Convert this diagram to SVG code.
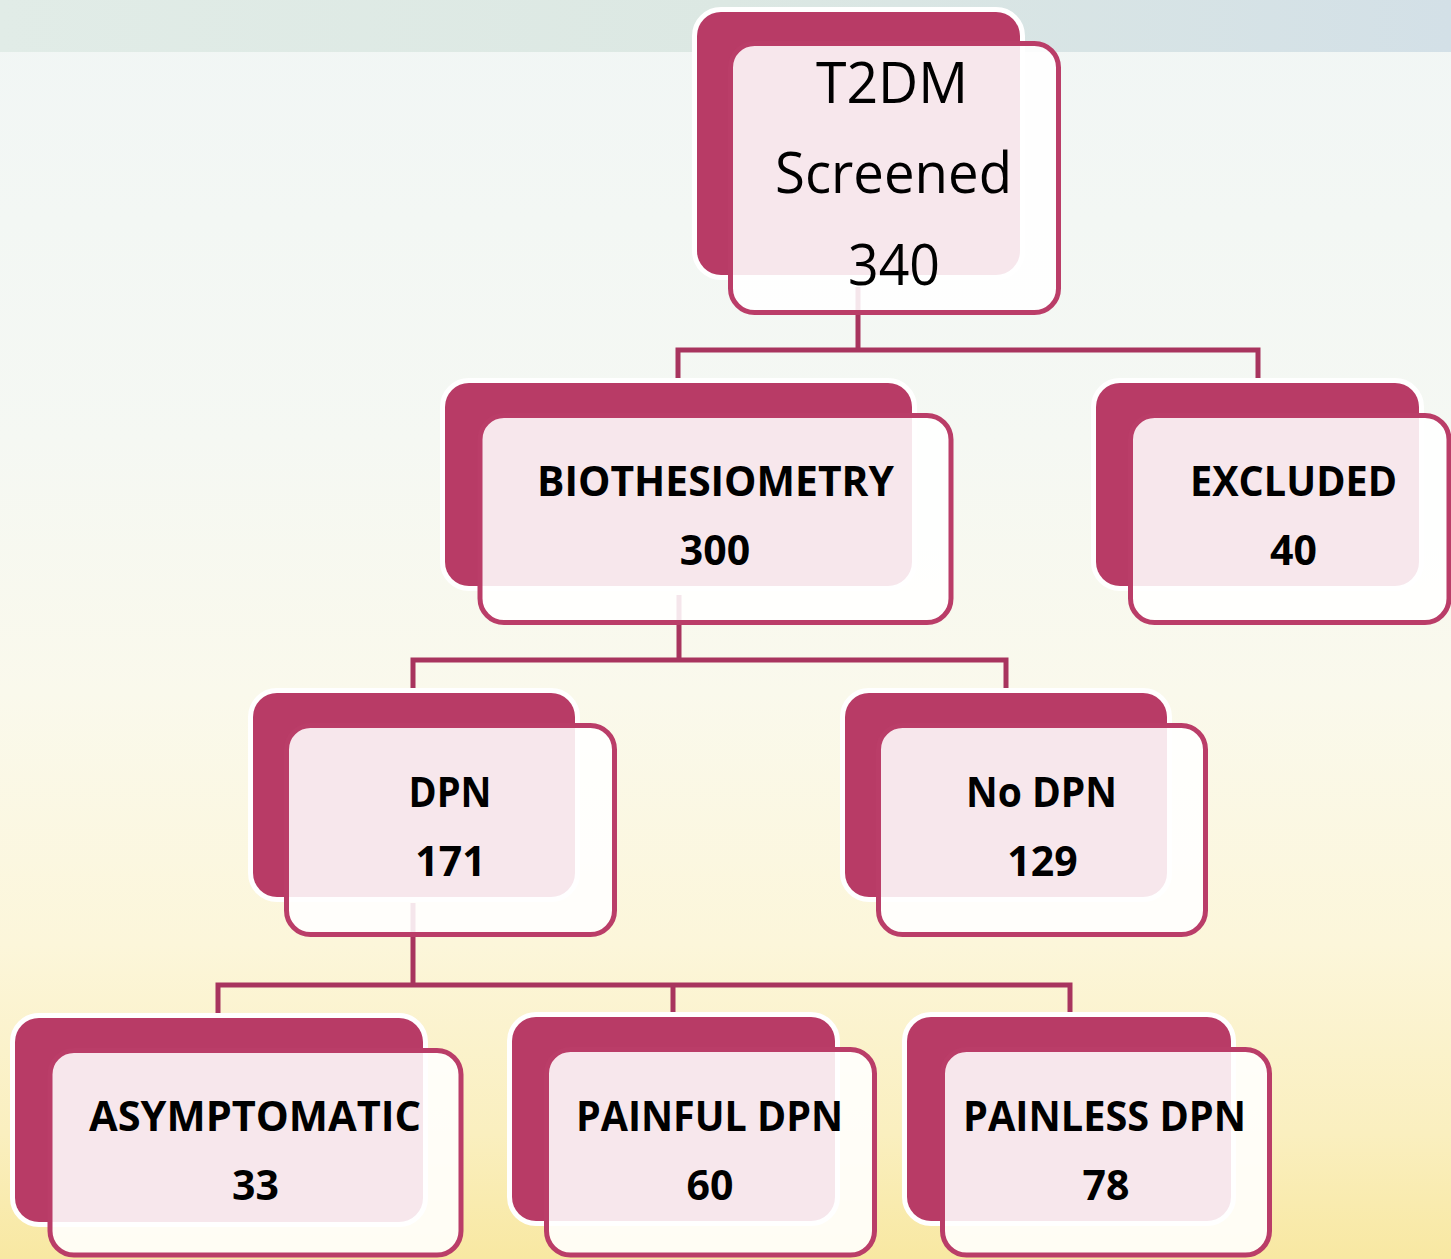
<svg xmlns="http://www.w3.org/2000/svg" width="1451" height="1259" viewBox="0 0 1451 1259">
  <defs>
    <linearGradient id="bg" x1="0" y1="0" x2="0" y2="1">
      <stop offset="0" stop-color="#F1F6F5"/>
      <stop offset="0.35" stop-color="#F5F8F3"/>
      <stop offset="0.55" stop-color="#FAF9EC"/>
      <stop offset="0.75" stop-color="#FCF6DA"/>
      <stop offset="0.9" stop-color="#FAEFBF"/>
      <stop offset="1" stop-color="#F8E8A2"/>
    </linearGradient>
    <linearGradient id="band" x1="0" y1="0" x2="1" y2="0">
      <stop offset="0" stop-color="#E1ECE7"/>
      <stop offset="0.5" stop-color="#DCE8E3"/>
      <stop offset="1" stop-color="#D3E0E7"/>
    </linearGradient>
    <style>
      .back { fill:#B83B66; stroke:#FFFFFF; stroke-width:10; paint-order:stroke; }
      .front { fill:#FFFFFF; fill-opacity:0.88; stroke:#BA3D68; stroke-width:5; }
      .conn { fill:none; stroke:#A8345E; stroke-width:5; stroke-linejoin:miter; }
      .t { font-family:"Open Sans","Noto Sans",sans-serif; fill:#000; text-anchor:middle; }
      .b { font-weight:700; font-size:41px; }
      .r { font-weight:400; font-size:56px; }
    </style>
  </defs>

  <rect x="0" y="0" width="1451" height="1259" fill="url(#bg)"/>
  <rect x="0" y="0" width="1451" height="52" fill="url(#band)"/>

  <g id="connectors">
    <path class="conn" d="M858,287 V350"/>
    <path class="conn" d="M678,380 V350 H1258 V380"/>
    <path class="conn" d="M679,595 V660"/>
    <path class="conn" d="M413,690 V660 H1006 V690"/>
    <path class="conn" d="M413,903 V985"/>
    <path class="conn" d="M218,1014 V985 H1070 V1014"/>
    <path class="conn" d="M673,985 V1014"/>
  </g>

  <g id="node-t2dm">
    <rect class="back" x="697" y="12" width="323" height="263" rx="24"/>
    <rect class="front" x="730.5" y="43.5" width="328" height="269" rx="24"/>
    <text class="t r" x="892" y="103" textLength="152" lengthAdjust="spacingAndGlyphs">T2DM</text>
    <text class="t r" x="893.5" y="193" textLength="237" lengthAdjust="spacingAndGlyphs">Screened</text>
    <text class="t r" x="894" y="285" textLength="92" lengthAdjust="spacingAndGlyphs">340</text>
  </g>

  <g id="node-biothesiometry">
    <rect class="back" x="445" y="383" width="467" height="203" rx="24"/>
    <rect class="front" x="480" y="415.5" width="471" height="207" rx="24"/>
    <text class="t b" x="715.5" y="496" textLength="357" lengthAdjust="spacingAndGlyphs">BIOTHESIOMETRY</text>
    <text class="t b" x="715" y="565">300</text>
  </g>

  <g id="node-excluded">
    <rect class="back" x="1096" y="383" width="323" height="203" rx="24"/>
    <rect class="front" x="1130.5" y="415.5" width="318.5" height="207" rx="24"/>
    <text class="t b" x="1293.5" y="496" textLength="207" lengthAdjust="spacingAndGlyphs">EXCLUDED</text>
    <text class="t b" x="1293.5" y="565">40</text>
  </g>

  <g id="node-dpn">
    <rect class="back" x="253" y="693" width="322" height="204" rx="24"/>
    <rect class="front" x="286.5" y="725.5" width="328" height="209" rx="24"/>
    <text class="t b" x="450" y="807" textLength="83" lengthAdjust="spacingAndGlyphs">DPN</text>
    <text class="t b" x="450.5" y="876">171</text>
  </g>

  <g id="node-no-dpn">
    <rect class="back" x="845" y="693" width="322" height="204" rx="24"/>
    <rect class="front" x="878.5" y="725.5" width="327" height="209" rx="24"/>
    <text class="t b" x="1041.5" y="807" textLength="151" lengthAdjust="spacingAndGlyphs">No DPN</text>
    <text class="t b" x="1042.5" y="876">129</text>
  </g>

  <g id="node-asymptomatic">
    <rect class="back" x="15" y="1018" width="408" height="204" rx="24"/>
    <rect class="front" x="50" y="1050.5" width="411" height="204.5" rx="24"/>
    <text class="t b" x="255" y="1131" textLength="332" lengthAdjust="spacingAndGlyphs">ASYMPTOMATIC</text>
    <text class="t b" x="255.5" y="1200">33</text>
  </g>

  <g id="node-painful">
    <rect class="back" x="512" y="1017" width="323" height="204" rx="24"/>
    <rect class="front" x="546.5" y="1049.5" width="328" height="205.5" rx="24"/>
    <text class="t b" x="709.5" y="1131" textLength="267" lengthAdjust="spacingAndGlyphs">PAINFUL DPN</text>
    <text class="t b" x="710" y="1200">60</text>
  </g>

  <g id="node-painless">
    <rect class="back" x="907" y="1017" width="324" height="204" rx="24"/>
    <rect class="front" x="942.5" y="1049.5" width="327" height="205.5" rx="24"/>
    <text class="t b" x="1104.5" y="1131" textLength="283" lengthAdjust="spacingAndGlyphs">PAINLESS DPN</text>
    <text class="t b" x="1106" y="1200">78</text>
  </g>
</svg>
